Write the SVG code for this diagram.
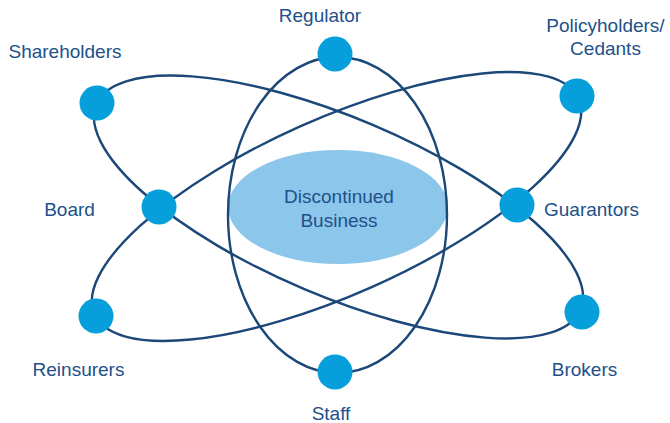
<svg xmlns="http://www.w3.org/2000/svg" width="670" height="423" viewBox="0 0 670 423">
  <style>
    .orbit { fill: none; stroke: #1b4878; stroke-width: 2.4; }
    .node { fill: #079fdb; }
    .label { font-family: "Liberation Sans", Arial, Helvetica, sans-serif; font-size: 19px; fill: #22508a; }
    .mid { text-anchor: middle; }
    .core { fill: #8cc6ea; }
  </style>
  <rect width="670" height="423" fill="#ffffff"/>

  <!-- central body -->
  <g id="core">
    <ellipse class="core" cx="338" cy="207" rx="110" ry="57"/>
    <text class="label mid" x="339" y="203">Discontinued</text>
    <text class="label mid" x="339" y="227">Business</text>
  </g>

  <!-- orbits -->
  <g id="connectors">
    <ellipse class="orbit" cx="337.5" cy="215" rx="109.5" ry="158"/>
    <ellipse class="orbit" cx="338.5" cy="207" rx="263" ry="89" transform="rotate(23 338.5 207)"/>
    <ellipse class="orbit" cx="336.5" cy="206.5" rx="265" ry="88" transform="rotate(-24 336.5 206.5)"/>
  </g>

  <g id="regulator">
    <circle class="node" cx="335" cy="54" r="17.5"/>
    <text class="label mid" x="320" y="22">Regulator</text>
  </g>
  <g id="staff">
    <circle class="node" cx="335" cy="372" r="17.5"/>
    <text class="label mid" x="331" y="420">Staff</text>
  </g>
  <g id="shareholders">
    <circle class="node" cx="97" cy="103" r="17.5"/>
    <text class="label mid" x="65" y="58">Shareholders</text>
  </g>
  <g id="policyholders">
    <circle class="node" cx="577" cy="96" r="17.5"/>
    <text class="label mid" x="605.5" y="32">Policyholders/</text>
    <text class="label mid" x="605.5" y="54.5">Cedants</text>
  </g>
  <g id="board">
    <circle class="node" cx="159" cy="207" r="17.5"/>
    <text class="label mid" x="69.5" y="216">Board</text>
  </g>
  <g id="guarantors">
    <circle class="node" cx="517" cy="205" r="17.5"/>
    <text class="label" x="544" y="216">Guarantors</text>
  </g>
  <g id="reinsurers">
    <circle class="node" cx="96" cy="316" r="17.5"/>
    <text class="label mid" x="78.5" y="376">Reinsurers</text>
  </g>
  <g id="brokers">
    <circle class="node" cx="582" cy="312" r="17.5"/>
    <text class="label mid" x="584.5" y="376">Brokers</text>
  </g>
</svg>
